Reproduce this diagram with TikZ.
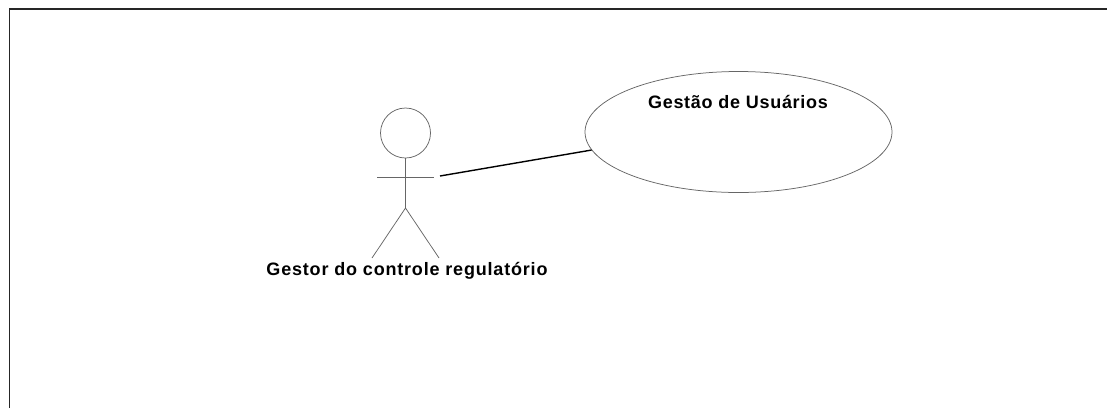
\documentclass[tikz,border=0pt]{standalone}
\usepackage{fontspec}
\setmainfont{Liberation Sans}
\usetikzlibrary{shapes.geometric}
\tikzset{
  x=1pt,y=-1pt,
  thin line/.style={draw=black!60,line width=0.75pt},
  frame line/.style={draw=black!85,line width=1.3pt},
  assoc/.style={draw=black,line width=1.4pt},
  label text/.style={font=\fontsize{18}{20}\selectfont\bfseries,inner sep=0pt,text=black,anchor=base},
}
\begin{document}
\begin{tikzpicture}
\useasboundingbox (0,0) rectangle (1107,408);
\coordinate (fbl) at (9.5,408);
\coordinate (ftl) at (9.5,9);
\coordinate (ftr) at (1107,9);
\draw[frame line] (fbl) -- (ftl) -- (ftr);
\node[circle,thin line,minimum size=50pt,inner sep=0pt] (head) at (405.5,133) {};
\coordinate (hip) at (405.5,208);
\coordinate (armL) at (377,177);
\coordinate (armR) at (434,177);
\coordinate (legL) at (372,258);
\coordinate (legR) at (439,258);
\draw[thin line] (head.south) -- (hip);
\draw[thin line] (armL) -- (armR);
\draw[thin line] (legL) -- (hip) -- (legR);
\node[ellipse,thin line,minimum width=307pt,minimum height=121pt,inner sep=0pt] (uc) at (738.5,132) {};
\coordinate (assocStart) at (440,176);
\draw[assoc] (assocStart) -- (uc.187.4);
\node[label text] (uclabel) at (738,108) {\addfontfeatures{LetterSpace=4}Gestão de Usuários};
\node[label text] (actorlabel) at (407,275) {\addfontfeatures{LetterSpace=4.5}Gestor do controle regulatório};
\end{tikzpicture}
\end{document}
